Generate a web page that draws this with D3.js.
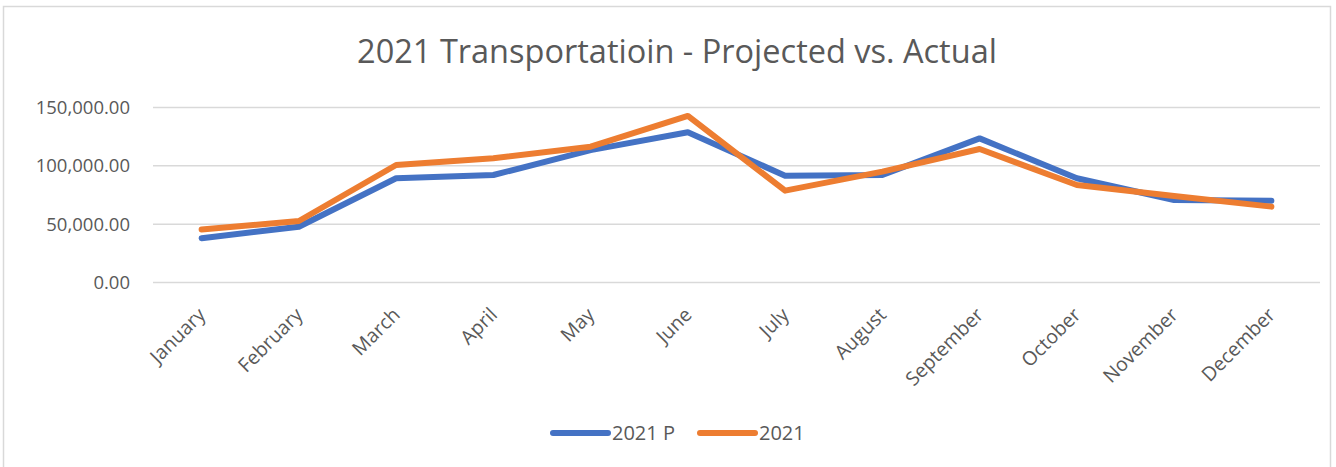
<!DOCTYPE html>
<html>
<head>
<meta charset="utf-8">
<script src="https://cdn.jsdelivr.net/npm/d3@7"></script>
<style>
  html, body { margin: 0; padding: 0; background: #fff; }
  svg { display: block; }
  svg text { font-family: "Open Sans", "Liberation Sans", sans-serif; }
</style>
</head>
<body>
<svg id="chart" width="1336" height="467"></svg>
<script>
// 2021 Transportation - projected vs actual, monthly line chart

const months = [
  "January", "February", "March", "April", "May", "June",
  "July", "August", "September", "October", "November", "December",
];
const projected = [37500, 47400, 88900, 91700, 113000, 128300, 91100, 91700, 123100, 88900, 70300, 69700];
const actual    = [45000, 52300, 100300, 106000, 116000, 142300, 78300, 94600, 114000, 83100, 73700, 64600];
const yTicks = [0, 50000, 100000, 150000];

const series = [
  { name: "2021 P", values: projected, color: "#4472C4" },
  { name: "2021",   values: actual,    color: "#ED7D31" },
];

const plot = { left: 153, right: 1320, top: 107, bottom: 282 };
const TEXT = "#595959";

const svg = d3.select("#chart");

// outer chart border
svg.append("rect")
  .attr("x", 3.5).attr("y", 6.5)
  .attr("width", 1327).attr("height", 470)
  .attr("fill", "#fff")
  .attr("stroke", "#d9d9d9").attr("stroke-width", 1.5);

svg.append("text")
  .attr("x", 677).attr("y", 63)
  .attr("text-anchor", "middle")
  .attr("fill", TEXT)
  .style("font-size", "32.5px")
  .text("2021 Transportatioin - Projected vs. Actual");

const x = d3.scaleBand().domain(months).range([plot.left, plot.right]);
const y = d3.scaleLinear().domain([0, 150000]).range([plot.bottom, plot.top]);

// gridlines + y labels
const yAxis = d3.axisLeft(y)
  .tickValues(yTicks)
  .tickSize(-(plot.right - plot.left))
  .tickPadding(23)
  .tickFormat(d3.format(",.2f"));

const gy = svg.append("g")
  .attr("transform", `translate(${plot.left},0)`)
  .call(yAxis);
gy.select(".domain").remove();
gy.selectAll(".tick line").attr("stroke", "#d9d9d9").attr("stroke-width", 1.5);
gy.selectAll(".tick text")
  .attr("fill", TEXT)
  .style("font-size", "18.5px")
  .attr("dy", "0.35em");

// x labels, rotated
const xAxis = d3.axisBottom(x).tickSize(0).tickPadding(0);
const gx = svg.append("g")
  .attr("transform", `translate(0,${plot.bottom})`)
  .call(xAxis);
gx.select(".domain").remove();
gx.selectAll(".tick text")
  .attr("fill", TEXT)
  .style("font-size", "19.5px")
  .attr("text-anchor", "end")
  .attr("x", 0).attr("y", 0).attr("dy", 0)
  .attr("transform", "translate(5,34) rotate(-45)");

// lines
const line = d3.line()
  .x((d, i) => x(months[i]) + x.bandwidth() / 2)
  .y(d => y(d));

svg.append("g")
  .selectAll("path")
  .data(series)
  .join("path")
  .attr("d", d => line(d.values))
  .attr("fill", "none")
  .attr("stroke", d => d.color)
  .attr("stroke-width", 6)
  .attr("stroke-linejoin", "round")
  .attr("stroke-linecap", "round");

// legend
const legendX = [553, 700];
const lg = svg.append("g")
  .selectAll("g")
  .data(series)
  .join("g")
  .attr("transform", (d, i) => `translate(${legendX[i]},433)`);
lg.append("line")
  .attr("x1", 0).attr("x2", 55)
  .attr("stroke", d => d.color)
  .attr("stroke-width", 6)
  .attr("stroke-linecap", "round");
lg.append("text")
  .attr("x", 59).attr("dy", "0.35em")
  .attr("fill", TEXT)
  .style("font-size", "20px")
  .text(d => d.name);
</script>
</body>
</html>
